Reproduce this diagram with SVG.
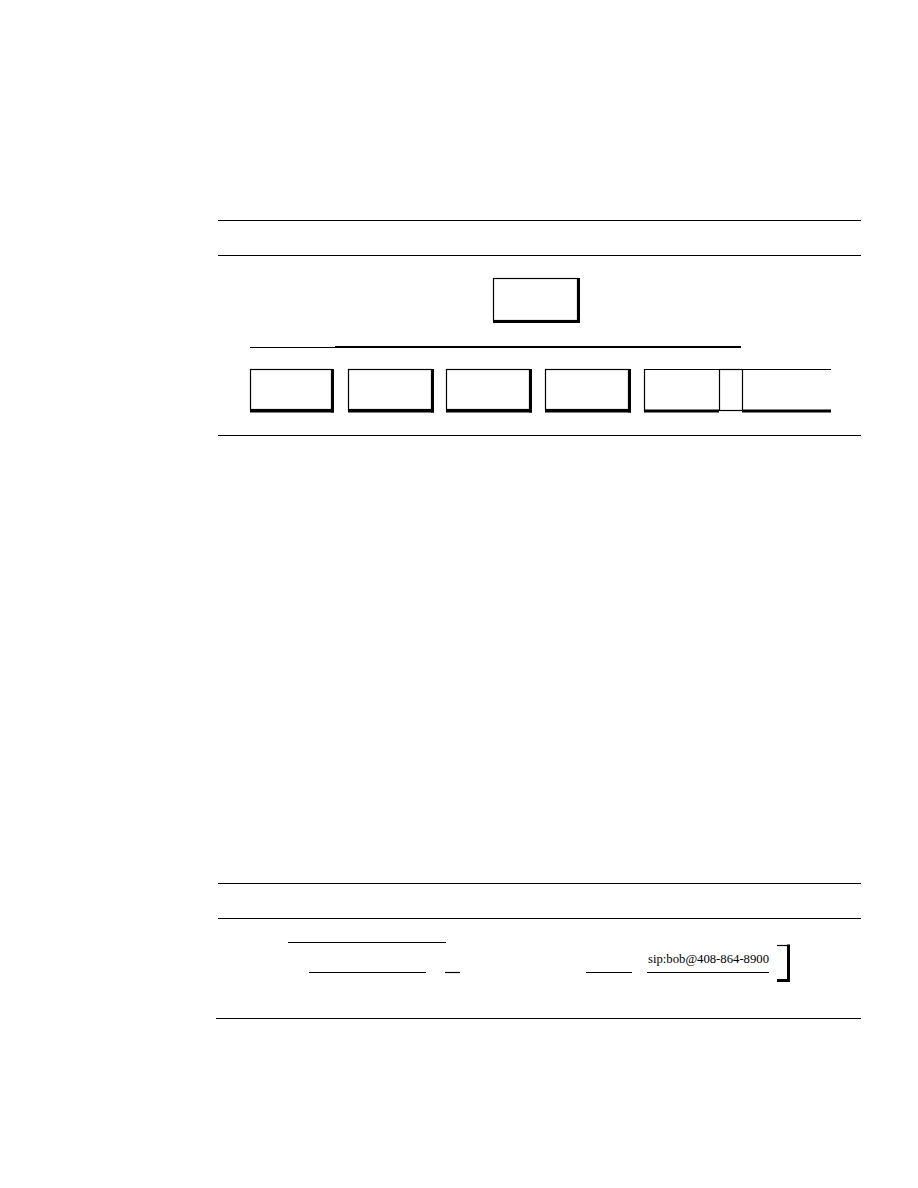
<svg xmlns="http://www.w3.org/2000/svg" width="918" height="1188" viewBox="0 0 918 1188">
<style>
.thin{stroke:#000;stroke-width:1.2;fill:none}
.thick{stroke:#000;stroke-width:3;fill:none}
.mid{stroke:#000;stroke-width:2.2;fill:none}
.box{fill:#fff;stroke:#000;stroke-width:1.2}
.lbl{font-family:"Liberation Serif","Times New Roman",serif;font-size:13.5px;fill:#000}
</style>
<rect x="0" y="0" width="918" height="1188" fill="#fff"/>
<g id="rules">
<line class="thin" x1="218" y1="220.5" x2="861" y2="220.5"/>
<line class="thin" x1="218" y1="255.5" x2="861" y2="255.5"/>
<line class="thin" x1="218" y1="435.5" x2="861" y2="435.5"/>
<line class="thin" x1="218" y1="883.5" x2="861" y2="883.5"/>
<line class="thin" x1="218" y1="918.5" x2="861" y2="918.5"/>
<line class="thin" x1="216" y1="1018.5" x2="861" y2="1018.5"/>
</g>
<g id="connectors">
<line class="thin" x1="250" y1="347.5" x2="335" y2="347.5"/>
<line class="mid" x1="335" y1="347" x2="741" y2="347"/>
</g>
<g id="top-box">
<rect class="box" x="493.5" y="278.5" width="84" height="42"/>
<line class="thick" x1="578.5" y1="278" x2="578.5" y2="322.5"/>
<line class="thick" x1="493" y1="321.5" x2="580" y2="321.5"/>
</g>
<g id="box1">
<rect class="box" x="250.5" y="369.5" width="81" height="40"/>
<line class="thick" x1="332.5" y1="369" x2="332.5" y2="412.5"/>
<line class="thick" x1="250" y1="411" x2="334" y2="411"/>
</g>
<g id="box2">
<rect class="box" x="348.5" y="369.5" width="83" height="40"/>
<line class="thick" x1="432.5" y1="369" x2="432.5" y2="412.5"/>
<line class="thick" x1="348" y1="411" x2="434" y2="411"/>
</g>
<g id="box3">
<rect class="box" x="446.5" y="369.5" width="83" height="40"/>
<line class="thick" x1="530.5" y1="369" x2="530.5" y2="412.5"/>
<line class="thick" x1="446" y1="411" x2="532" y2="411"/>
</g>
<g id="box4">
<rect class="box" x="545.5" y="369.5" width="83" height="40"/>
<line class="thick" x1="629.5" y1="369" x2="629.5" y2="412.5"/>
<line class="thick" x1="545" y1="411" x2="631" y2="411"/>
</g>
<g id="box5">
<line class="thin" x1="644" y1="369.5" x2="719.5" y2="369.5"/>
<line class="thin" x1="644.5" y1="369" x2="644.5" y2="411"/>
<line class="thin" x1="719.5" y1="369" x2="719.5" y2="411"/>
<line class="thick" x1="644" y1="411" x2="719" y2="411"/>
</g>
<g id="box-small">
<line class="thin" x1="719.5" y1="369.5" x2="742.5" y2="369.5"/>
<line class="thin" x1="719.5" y1="410.5" x2="742.5" y2="410.5"/>
<line class="thin" x1="742.5" y1="369" x2="742.5" y2="411"/>
</g>
<g id="box6">
<line class="thin" x1="742.5" y1="369.5" x2="831" y2="369.5"/>
<line class="thick" x1="742" y1="411" x2="831" y2="411"/>
</g>
<g id="bottom-row">
<line class="thin" x1="288" y1="942.5" x2="446" y2="942.5"/>
<line class="thin" x1="309" y1="972.5" x2="426" y2="972.5"/>
<line class="thin" x1="445" y1="972.5" x2="460" y2="972.5"/>
<line class="thin" x1="586" y1="972.5" x2="632" y2="972.5"/>
<line class="thin" x1="647" y1="972.5" x2="769" y2="972.5"/>
<text class="lbl" x="648" y="963" textLength="121" lengthAdjust="spacingAndGlyphs">sip:bob@408-864-8900</text>
</g>
<g id="bracket">
<line class="thin" x1="777" y1="945.5" x2="790" y2="945.5"/>
<line class="thick" x1="788.5" y1="944.5" x2="788.5" y2="982"/>
<line class="thick" x1="777" y1="980.5" x2="790" y2="980.5"/>
</g>
</svg>
